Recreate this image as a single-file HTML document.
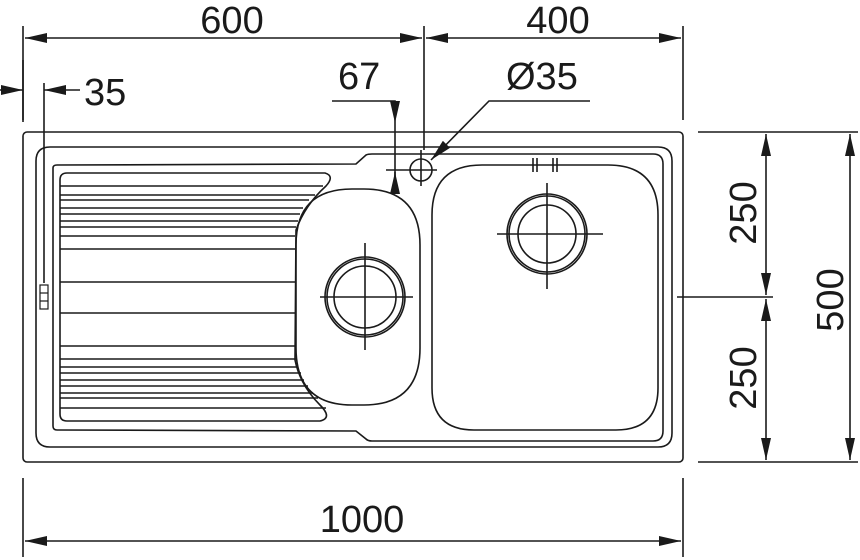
<!DOCTYPE html>
<html><head><meta charset="utf-8"><style>
html,body{margin:0;padding:0;background:#fff}
svg{display:block}
text{font-family:"Liberation Sans",Arial,sans-serif;font-size:38px;fill:#1a1a1a}
</style></head><body>
<svg width="860" height="560" viewBox="0 0 860 560" xmlns="http://www.w3.org/2000/svg">
<defs>
<marker id="a" viewBox="0 0 22 10" refX="22" refY="5" markerWidth="22" markerHeight="10" markerUnits="userSpaceOnUse" orient="auto-start-reverse"><path d="M0,0 L22,5 L0,10 Z" fill="#1a1a1a"/></marker>
</defs>
<g stroke="#1a1a1a" stroke-width="1.6" fill="none">
<!-- top dims -->
<line x1="23" y1="26" x2="23" y2="120"/>
<line x1="424" y1="26" x2="424" y2="150"/>
<line x1="683" y1="26" x2="683" y2="120"/>
<line x1="25" y1="38" x2="422" y2="38" marker-start="url(#a)" marker-end="url(#a)"/>
<line x1="426" y1="38" x2="681" y2="38" marker-start="url(#a)" marker-end="url(#a)"/>
<!-- 35 -->
<line x1="23" y1="60" x2="23" y2="122"/>
<line x1="44" y1="83" x2="44" y2="283"/>
<line x1="0" y1="90" x2="23" y2="90" marker-end="url(#a)"/>
<line x1="80" y1="90" x2="44" y2="90" marker-end="url(#a)"/>
<rect x="40" y="285" width="8" height="24" stroke-width="1.2"/>
<line x1="40" y1="293" x2="48" y2="293" stroke-width="1.2"/>
<line x1="40" y1="301" x2="48" y2="301" stroke-width="1.2"/>
<!-- 67 -->
<polyline points="332,101 395,101 395,123" marker-end="url(#a)"/>
<line x1="395" y1="123" x2="395" y2="194"/>
<line x1="395" y1="194" x2="395" y2="172" marker-end="url(#a)"/>
<line x1="386" y1="170" x2="437" y2="170"/>
<line x1="421" y1="150" x2="421" y2="186"/>
<circle cx="421" cy="170" r="11"/>
<!-- Ø35 -->
<polyline points="590,101 489,101 431,160" marker-end="url(#a)"/>
<!-- right dims -->
<line x1="698" y1="132" x2="858" y2="132"/>
<line x1="698" y1="462" x2="858" y2="462"/>
<line x1="677" y1="297" x2="773" y2="297"/>
<line x1="766" y1="134" x2="766" y2="295" marker-start="url(#a)" marker-end="url(#a)"/>
<line x1="766" y1="299" x2="766" y2="460" marker-start="url(#a)" marker-end="url(#a)"/>
<line x1="850" y1="134" x2="850" y2="460" marker-start="url(#a)" marker-end="url(#a)"/>
<!-- bottom dim -->
<line x1="23" y1="478" x2="23" y2="557"/>
<line x1="683" y1="478" x2="683" y2="557"/>
<line x1="25" y1="541" x2="681" y2="541" marker-start="url(#a)" marker-end="url(#a)"/>
<!-- sink outlines -->
<rect x="23" y="132" width="660" height="330" rx="4"/>
<path d="M36,161 Q36,147 50,147 L658,147 Q672,147 672,161 L672,433 Q672,447 658,447 L50,447 Q36,447 36,433 Z"/>
<path d="M53,168 Q53,165 57,165 L356,164 L366,155 Q368,154 372,154 L653,154 Q663,154 663,164 L663,431 Q663,441 653,441 L372,441 Q368,441 366,439 L356,431 L57,430 Q53,430 53,426 Z"/>
<!-- drainboard ribs -->
<path d="M60,180 Q60,173 67,173 L325,173 Q335,176 326,186 Q305,205 296,230 L295,360 Q300,385 320,405 Q333,418 320,421 L67,421 Q60,421 60,414 Z"/>
<g stroke-width="1.4">
<line x1="60" y1="186" x2="323" y2="186"/><line x1="60" y1="195" x2="315" y2="195"/>
<line x1="60" y1="200" x2="309" y2="200"/><line x1="60" y1="208" x2="303" y2="208"/>
<line x1="60" y1="214" x2="300" y2="214"/><line x1="60" y1="221" x2="298" y2="221"/>
<line x1="60" y1="227" x2="296" y2="227"/><line x1="60" y1="236" x2="295" y2="236"/>
<line x1="60" y1="249" x2="295" y2="249"/><line x1="60" y1="282" x2="295" y2="282"/>
<line x1="60" y1="313" x2="295" y2="313"/><line x1="60" y1="346" x2="295" y2="346"/>
<line x1="60" y1="359" x2="296" y2="359"/><line x1="60" y1="367" x2="298" y2="367"/>
<line x1="60" y1="373" x2="301" y2="373"/><line x1="60" y1="380" x2="304" y2="380"/>
<line x1="60" y1="386" x2="308" y2="386"/><line x1="60" y1="393" x2="313" y2="393"/>
<line x1="60" y1="398" x2="318" y2="398"/><line x1="60" y1="408" x2="326" y2="408"/>
</g>
<!-- small bowl -->
<path d="M296,245 Q296,189 352,189 L364,189 Q420,189 420,245 L420,348 Q420,405 364,405 L352,405 Q296,405 296,348 Z"/>
<circle cx="365" cy="297" r="40"/><circle cx="365" cy="297" r="38"/><circle cx="365" cy="297" r="31"/>
<line x1="320" y1="297" x2="413" y2="297"/><line x1="365" y1="243" x2="365" y2="350"/>
<!-- large bowl -->
<path d="M432,215 Q432,165 482,165 L608,165 Q658,165 658,215 L658,388 Q658,430 616,430 L474,430 Q432,430 432,388 Z"/>
<circle cx="547" cy="234" r="40"/><circle cx="547" cy="234" r="38"/><circle cx="547" cy="234" r="29"/>
<line x1="497" y1="234" x2="603" y2="234"/><line x1="547" y1="183" x2="547" y2="289"/>
<line x1="533" y1="158" x2="533" y2="172"/><line x1="537" y1="158" x2="537" y2="172"/>
<line x1="553" y1="158" x2="553" y2="172"/><line x1="557" y1="158" x2="557" y2="172"/>
</g>
<text x="232" y="33" text-anchor="middle">600</text>
<text x="558" y="33" text-anchor="middle">400</text>
<text x="84" y="105">35</text>
<text x="338" y="89">67</text>
<text x="506" y="89">Ø35</text>
<text x="362" y="532" text-anchor="middle">1000</text>
<text transform="translate(756,213) rotate(-90)" text-anchor="middle">250</text>
<text transform="translate(756,378) rotate(-90)" text-anchor="middle">250</text>
<text transform="translate(843,300) rotate(-90)" text-anchor="middle">500</text>
</svg>
</body></html>
